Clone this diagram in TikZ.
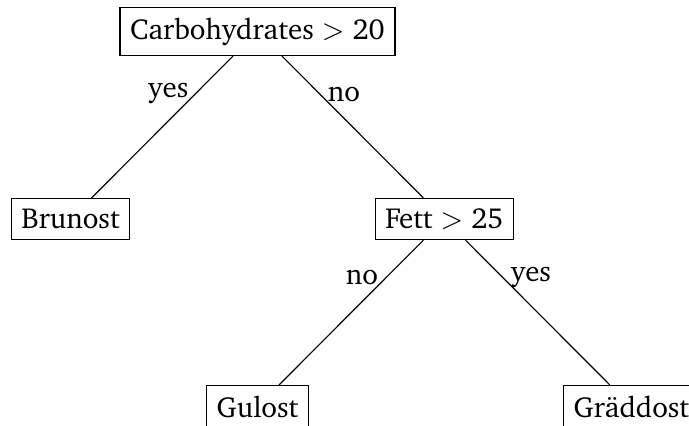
\documentclass[tikz,border=0pt]{standalone}
\usepackage[T1]{fontenc}
\usepackage{charter}
\usetikzlibrary{positioning}

\begin{document}
\begin{tikzpicture}[
        x=0.345pt, y=-0.345pt,
        node distance=64.7pt and 64.5pt, on grid,
        box/.style={rectangle, draw, inner sep=3.5pt},
        test/.style={box},
        leaf/.style={box},
        answer/.style={inner sep=2.5pt},
        branch/.style={draw}
    ]
        \clip (0,0) rectangle (689,425);
        \useasboundingbox (0,0) rectangle (689,425);

        \node[test] (carbs) at (257.5,31.5) {Carbohydrates $>$ 20};
        \node[leaf, below left=of carbs] (brunost) {Brunost};
        \node[test, below right=of carbs] (fett) {Fett $>$ 25};
        \node[leaf, below left=of fett] (gulost) {Gulost};
        \node[leaf, below right=of fett] (graddost) {Gräddost};

        \draw[branch] (carbs) -- node[answer, pos=0.26, left] {yes} (brunost);
        \draw[branch] (carbs) -- node[answer, pos=0.27, right] {no} (fett);
        \draw[branch] (fett) -- node[answer, pos=0.26, left] {no} (gulost);
        \draw[branch] (fett) -- node[answer, pos=0.26, right] {yes} (graddost);
    \end{tikzpicture}
\end{document}
